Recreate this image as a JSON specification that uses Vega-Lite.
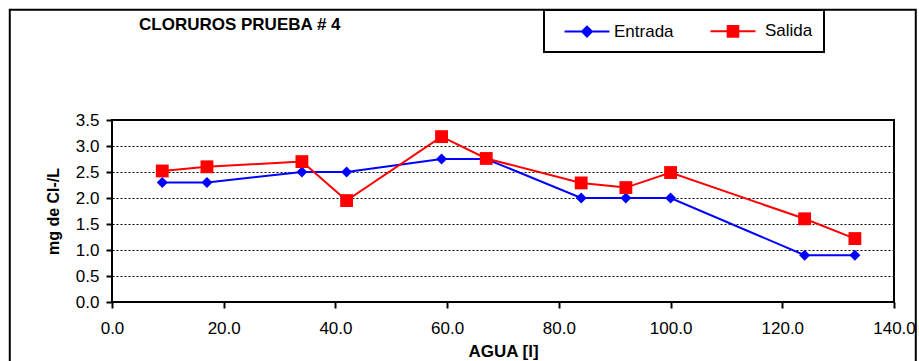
{
  "$schema": "https://vega.github.io/schema/vega-lite/v6.json",
  "width": 782,
  "height": 182,
  "autosize": {"type": "none"},
  "padding": {"left": 112, "top": 120, "right": 25, "bottom": 59},
  "background": "white",
  "title": {
    "text": "CLORUROS PRUEBA # 4",
    "anchor": "start",
    "frame": "group",
    "font": "Liberation Sans",
    "fontSize": 17,
    "fontWeight": "bold",
    "color": "black",
    "dx": 27,
    "dy": 29
  },
  "config": {
    "view": {"stroke": "black", "strokeWidth": 2},
    "font": "Liberation Sans",
    "axisX": {
      "tickCount": 7, "format": ".1f",
      "domain": false, "grid": false, "tickColor": "black", "tickWidth": 2, "tickSize": 6,
      "labelFont": "Liberation Sans", "labelFontSize": 17, "labelColor": "black", "labelPadding": 12,
      "labelFlush": false, "labelOverlap": false,
      "titleFont": "Liberation Sans", "titleFontSize": 17, "titleFontWeight": "bold", "titleColor": "black", "titlePadding": 7
    },
    "axisY": {
      "tickCount": 7, "format": ".1f",
      "domain": false, "grid": true, "gridColor": "black", "gridDash": [2, 2], "gridWidth": 1, "gridOpacity": 1,
      "tickColor": "black", "tickWidth": 2, "tickSize": 6,
      "labelFont": "Liberation Sans", "labelFontSize": 17, "labelColor": "black", "labelPadding": 7,
      "labelFlush": false, "labelOverlap": false,
      "titleFont": "Liberation Sans", "titleFontSize": 16, "titleFontWeight": "bold", "titleColor": "black", "titlePadding": 14
    }
  },
  "data": {
    "values": [
      {"agua": 9, "serie": "Entrada", "cl": 2.3},
      {"agua": 17, "serie": "Entrada", "cl": 2.3},
      {"agua": 34, "serie": "Entrada", "cl": 2.5},
      {"agua": 42, "serie": "Entrada", "cl": 2.5},
      {"agua": 59, "serie": "Entrada", "cl": 2.75},
      {"agua": 67, "serie": "Entrada", "cl": 2.75},
      {"agua": 84, "serie": "Entrada", "cl": 2.0},
      {"agua": 92, "serie": "Entrada", "cl": 2.0},
      {"agua": 100, "serie": "Entrada", "cl": 2.0},
      {"agua": 124, "serie": "Entrada", "cl": 0.9},
      {"agua": 133, "serie": "Entrada", "cl": 0.9},
      {"agua": 9, "serie": "Salida", "cl": 2.52},
      {"agua": 17, "serie": "Salida", "cl": 2.6},
      {"agua": 34, "serie": "Salida", "cl": 2.7},
      {"agua": 42, "serie": "Salida", "cl": 1.95},
      {"agua": 59, "serie": "Salida", "cl": 3.18},
      {"agua": 67, "serie": "Salida", "cl": 2.76},
      {"agua": 84, "serie": "Salida", "cl": 2.29},
      {"agua": 92, "serie": "Salida", "cl": 2.2},
      {"agua": 100, "serie": "Salida", "cl": 2.49},
      {"agua": 124, "serie": "Salida", "cl": 1.6},
      {"agua": 133, "serie": "Salida", "cl": 1.22}
    ]
  },
  "layer": [
    {
      "data": {"values": [{"frame": "outer"}]},
      "mark": {"type": "rect", "filled": false, "stroke": "black", "strokeWidth": 2, "clip": false},
      "encoding": {
        "x": {"datum": -18.3, "type": "quantitative", "scale": {"domain": [0, 140], "nice": false, "zero": false}, "title": "AGUA [l]"},
        "x2": {"datum": 143.9},
        "y": {"datum": 5.62, "type": "quantitative", "scale": {"domain": [0, 3.5], "nice": false, "zero": false}, "title": "mg de Cl-/L"},
        "y2": {"datum": -1.3}
      }
    },
    {
      "mark": {"type": "line", "strokeWidth": 2},
      "encoding": {
        "x": {"field": "agua", "type": "quantitative", "scale": {"domain": [0, 140], "nice": false, "zero": false}, "title": "AGUA [l]"},
        "y": {"field": "cl", "type": "quantitative", "scale": {"domain": [0, 3.5], "nice": false, "zero": false}, "title": "mg de Cl-/L"},
        "color": {
          "field": "serie", "type": "nominal",
          "scale": {"domain": ["Entrada", "Salida"], "range": ["#0000FF", "#FF0000"]},
          "legend": {
            "orient": "none", "legendX": 432, "legendY": -110, "direction": "horizontal", "title": null,
            "strokeColor": "black", "padding": 11, "symbolSize": 324, "symbolOffset": 22, "labelOffset": 17,
            "columnPadding": 27, "labelFont": "Liberation Sans", "labelFontSize": 17, "labelColor": "black",
            "symbolStrokeWidth": 2,
            "encode": {
              "symbols": {"update": {
                "shape": {"signal": "datum.value === 'Entrada' ? 'M-2.5,0L2.5,0M-0.55,0L0,-0.55L0.55,0L0,0.55Z' : 'M-2.5,0L2.5,0M-0.59,-0.59L0.59,-0.59L0.59,0.59L-0.59,0.59Z'"},
                "fill": {"signal": "datum.value === 'Entrada' ? '#0000FF' : '#FF0000'"},
                "stroke": {"signal": "datum.value === 'Entrada' ? '#0000FF' : '#FF0000'"},
                "strokeWidth": {"value": 2},
                "opacity": {"value": 1}
              }},
              "labels": {"update": {
                "dx": {"signal": "datum.value === 'Salida' ? 5 : 0"}
              }},
              "legend": {"update": {"strokeWidth": {"value": 2}}}
            }
          }
        }
      }
    },
    {
      "transform": [{"filter": "datum.serie === 'Entrada'"}],
      "mark": {"type": "point", "filled": true, "opacity": 1, "shape": "diamond", "size": 120, "color": "#0000FF"},
      "encoding": {
        "x": {"field": "agua", "type": "quantitative"},
        "y": {"field": "cl", "type": "quantitative"}
      }
    },
    {
      "transform": [{"filter": "datum.serie === 'Salida'"}],
      "mark": {"type": "point", "filled": true, "opacity": 1, "shape": "square", "size": 165, "color": "#FF0000"},
      "encoding": {
        "x": {"field": "agua", "type": "quantitative"},
        "y": {"field": "cl", "type": "quantitative"}
      }
    }
  ]
}
